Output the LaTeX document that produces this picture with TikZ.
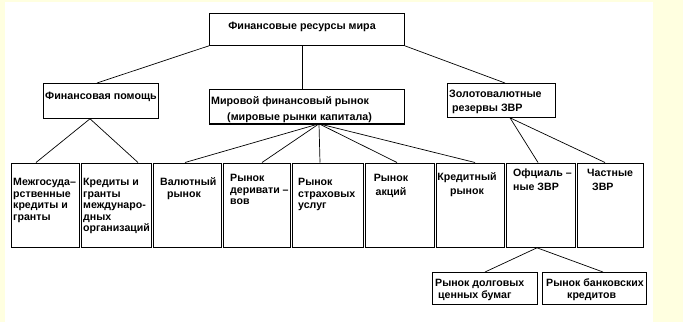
\documentclass[tikz,border=0pt]{standalone}
\usepackage{fontspec}
\setmainfont{Liberation Sans}
\definecolor{yellowbg}{HTML}{FFFFE0}
\begin{document}
\begin{tikzpicture}[x=1pt,y=-1pt,
  box/.style={draw=black, line width=0.8pt, rectangle, inner sep=0pt, anchor=north west},
  txt/.style={inner sep=0pt, font=\fontsize{10.6}{11.5}\selectfont\bfseries, align=left, anchor=base west},
  txtw/.style={inner sep=0pt, font=\fontsize{10.6}{14}\selectfont\bfseries, align=left, anchor=base west},
  big/.style={inner sep=0pt, font=\fontsize{10.7}{14}\selectfont\bfseries, anchor=base west},
  link/.style={draw=black, line width=0.7pt}]
\fill[yellowbg] (0,0) rectangle (683,322);
\fill[white] (5,2) rectangle (653,322);
\useasboundingbox (0,0) rectangle (683,322);

% top level
\node[box, minimum width=195pt, minimum height=32.3pt] (top) at (209,12.7) {};
\node[big, anchor=base] (ttop) at (302,29) {Финансовые ресурсы мира};

\node[box, minimum width=115pt, minimum height=35pt] (aid) at (43,83) {};
\node[big] (taid) at (45,99) {Финансовая помощь};

\node[box, minimum width=195pt, minimum height=34pt] (mid) at (209,89) {};
\draw[line width=1.8pt] (mid.south west) -- (mid.south east);
\node[big] (tmid1) at (211,104) {Мировой финансовый рынок};
\node[big] (tmid2) at (227,120) {(мировые рынки капитала)};

\node[box, minimum width=108pt, minimum height=34pt] (gold) at (447,83) {};
\node[big] (tgold1) at (449,97.5) {Золотовалютные};
\node[big] (tgold2) at (452,111.5) {резервы ЗВР};

% bottom row cells
\node[box, minimum width=68pt, minimum height=84.5pt] (c1) at (11,162.5) {};
\node[box, minimum width=70pt, minimum height=84.5pt] (c2) at (81,162.5) {};
\node[box, minimum width=68pt, minimum height=84.5pt] (c3) at (153,162.5) {};
\node[box, minimum width=67pt, minimum height=84.5pt] (c4) at (223,162.5) {};
\node[box, minimum width=71pt, minimum height=84.5pt] (c5) at (292,162.5) {};
\node[box, minimum width=69pt, minimum height=84.5pt] (c6) at (365,162.5) {};
\node[box, minimum width=68pt, minimum height=84.5pt] (c7) at (436,162.5) {};
\node[box, minimum width=69pt, minimum height=84.5pt] (c8) at (506,162.5) {};
\node[box, minimum width=66pt, minimum height=84.5pt] (c9) at (577,162.5) {};

% multi-line nodes: position = baseline of the last line
\node[txt] (t1) at (13,220) {Межгосуда–\\рственные\\кредиты и\\гранты};
\node[txt] (t2) at (83,231.5) {Кредиты и\\гранты\\междунаро-\\дных\\организаций};
\node[txt] (t3a) at (160,185.5) {Валютный};
\node[txt] (t3b) at (167,197) {рынок};
\node[txt] (t4) at (230,204.5) {Рынок\\деривати –\\вов};
\node[txt] (t5) at (298,208.5) {Рынок\\страховых\\услуг};
\node[txtw, align=center, anchor=base] (t6) at (391,195) {Рынок\\акций};
\node[txtw, align=center, anchor=base] (t7) at (467,194) {Кредитный\\рынок};
\node[txtw] (t8) at (513,190) {Офциаль –\\ные ЗВР};
\node[txt] (t9a) at (587,176.5) {Частные};
\node[txt] (t9b) at (592,190) {ЗВР};

% lowest boxes
\node[box, minimum width=105pt, minimum height=31.5pt] (b1) at (432,272) {};
\node[box, minimum width=104pt, minimum height=31.5pt] (b2) at (542,272) {};
\node[txt] (tb1a) at (435,286.5) {Рынок долговых};
\node[txt] (tb1b) at (438,298) {ценных бумаг};
\node[txt] (tb2a) at (546,286.5) {Рынок банковских};
\node[txt] (tb2b) at (567,298) {кредитов};

% connectors
\draw[link] (top.south west) -- ([xshift=54pt]aid.north west);
\coordinate (topv) at ([xshift=93pt]top.south west);
\draw[link] (topv) -- (topv |- mid.north);
\draw[link] (top.south east) -- ([xshift=58pt]gold.north west);

\coordinate (aidb) at ([xshift=47pt]aid.south west);
\draw[link] (aidb) -- ([xshift=25pt]c1.north west);
\draw[link] (aidb) -- ([xshift=57pt]c2.north west);

\coordinate (midb) at ([xshift=110pt]mid.south west);
\draw[link] (midb) -- ([xshift=32pt]c3.north west);
\draw[link] (midb) -- ([xshift=39pt]c4.north west);
\draw[link] (midb) -- ([xshift=28pt]c5.north west);
\draw[link] (midb) -- ([xshift=32pt]c6.north west);
\draw[link] (midb) -- ([xshift=39pt]c7.north west);

\coordinate (goldb) at ([xshift=63pt]gold.south west);
\draw[link] (goldb) -- ([xshift=32pt]c8.north west);
\draw[link] (goldb) -- ([xshift=28pt]c9.north west);

\coordinate (c8b) at ([xshift=31pt]c8.south west);
\draw[link] (c8b) -- ([xshift=53pt]b1.north west);
\draw[link] (c8b) -- ([xshift=61pt]b2.north west);
\end{tikzpicture}
\end{document}
